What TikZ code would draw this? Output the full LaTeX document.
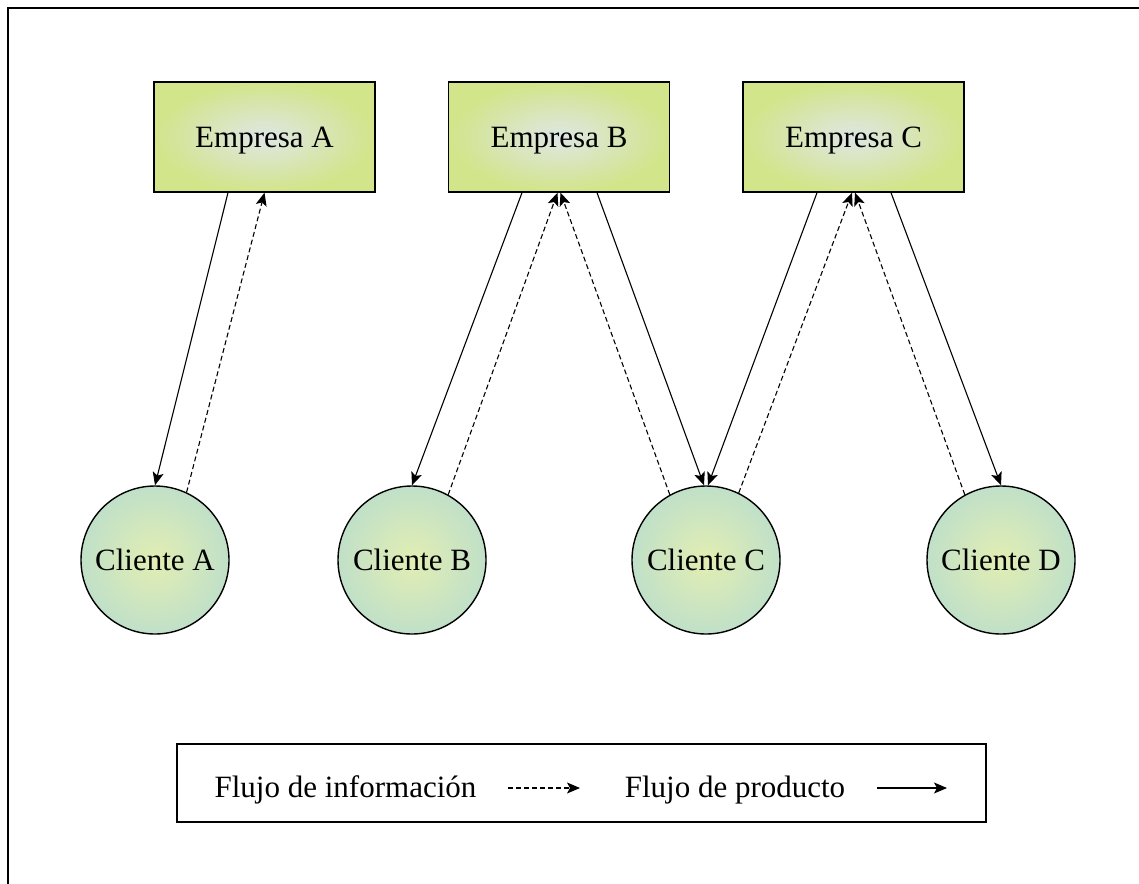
\documentclass[tikz,border=0pt]{standalone}
\usepackage{fontspec}
\setmainfont{Liberation Serif}
\usetikzlibrary{arrows.meta,calc}
\definecolor{cajain}{RGB}{222,230,228}
\definecolor{cajaout}{RGB}{210,229,138}
\definecolor{circin}{RGB}{226,238,178}
\definecolor{circout}{RGB}{192,224,200}
\tikzset{
  empresa/.style={draw, line width=0.7pt, minimum width=110.5pt, minimum height=55pt, text depth=0pt,
    shading=radial, inner color=cajain, outer color=cajaout, font=\fontsize{15.5}{18}\selectfont},
  cliente/.style={circle, draw, line width=0.7pt, minimum size=74pt, inner sep=0pt,
    shading=radial, inner color=circin, outer color=circout, font=\fontsize{15.5}{18}\selectfont},
  producto/.style={-{Stealth[length=6.5pt,width=5.5pt,inset=1.5pt]}, line width=0.55pt},
  informacion/.style={producto, dash pattern=on 2.5pt off 1.5pt},
  etiqueta/.style={anchor=base, inner sep=0pt, font=\fontsize{15.5}{18}\selectfont},
}
\begin{document}
\begin{tikzpicture}[x=0.5pt, y=-0.5pt] % {{{
\useasboundingbox (0,0) rectangle (1139,883);
\draw[line width=1pt] (8,900) -- (8,8) -- (1150,8);
% Empresas   {{{
\node[empresa] (ea) at (264.5,137) {Empresa A};
\node[empresa] (eb) at (559,137) {Empresa B};
\node[empresa] (ec) at (853.5,137) {Empresa C};
% }}}
% Clientes   {{{
\node[cliente] (ca) at (155,560) {Cliente A};
\node[cliente] (cb) at (412,560) {Cliente B};
\node[cliente] (cc) at (706,560) {Cliente C};
\node[cliente] (cd) at (1001,560) {Cliente D};
% }}}
% Flujos   {{{
\draw[producto] ($(ea.south)+(-36.5,0)$) -- (ca.north);
\draw[informacion] (ca.65) -- (ea.south);
\draw[producto] ($(eb.south)+(-37,0)$) -- (cb.north);
\draw[informacion] (cb.61) -- ($(eb.south)+(-1.5,0)$);
\draw[producto] ($(eb.south)+(38,0)$) -- ($(cc.north)+(-2,0)$);
\draw[informacion] (cc.119) -- ($(eb.south)+(1.5,0)$);
\draw[producto] ($(ec.south)+(-36.5,0)$) -- ($(cc.north)+(2,0)$);
\draw[informacion] (cc.64) -- ($(ec.south)+(-1.5,0)$);
\draw[producto] ($(ec.south)+(37.5,0)$) -- (cd.north);
\draw[informacion] (cd.119) -- ($(ec.south)+(1.5,0)$);
% }}}
% Leyenda   {{{
\node[draw, line width=0.7pt, minimum width=404.5pt, minimum height=39pt] (leyenda) at (581.5,783) {};
\node[etiqueta] (tinfo) at (345.5,797) {Flujo de información};
\node[etiqueta] (tprod) at (735,797) {Flujo de producto};
\coordinate (info1) at (508,788); \coordinate (info2) at (580,788);
\coordinate (prod1) at (877,788); \coordinate (prod2) at (947,788);
\draw[informacion] (info1) -- (info2);
\draw[producto] (prod1) -- (prod2);
% }}}
\end{tikzpicture} % }}}
\end{document}
